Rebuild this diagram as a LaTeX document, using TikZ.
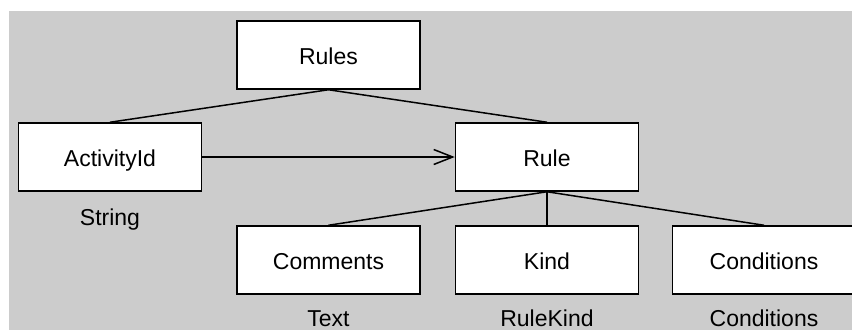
\documentclass[tikz,border=0pt]{standalone}
\usepackage{fontspec}
\setmainfont{Liberation Sans}
\usetikzlibrary{arrows.meta}
\definecolor{canvas}{HTML}{CCCCCC}
\begin{document}
\begin{tikzpicture}[x=1pt,y=-1pt,
    entity/.style ={rectangle, draw, line width=1.5pt, fill=white, inner sep=0pt,
      minimum width=183pt, minimum height=68pt, text height=19pt, text depth=0pt,
      font=\fontsize{23}{27}\selectfont},
    typename/.style ={inner sep=0pt, anchor=base, font=\fontsize{23}{27}\selectfont},
    link/.style ={line width=1.5pt}]
   \useasboundingbox (0,0) rectangle (852,330);
   \clip (0,0) rectangle (852,330);
   \fill[white] (0,0) rectangle (852,330);
   \fill[canvas] (9,11) rectangle (852,330);
   \node[entity] (rules) at (328.5,55)  {Rules};
   \node[entity] (act)   at (110,157)   {ActivityId};
   \node[entity] (rule)  at (547,157)   {Rule};
   \node[entity] (com)   at (328.5,260) {Comments};
   \node[entity] (kind)  at (547,260)   {Kind};
   \node[entity] (cond)  at (764,260)   {Conditions};
   \node[typename] (actT)  at (110,225)   {String};
   \node[typename] (comT)  at (328.5,326) {Text};
   \node[typename] (kindT) at (547,326)   {RuleKind};
   \node[typename] (condT) at (764,326)   {Conditions};
   \draw[link] (rules.south) -- (act.north);
   \draw[link] (rules.south) -- (rule.north);
   \draw[link, -{Straight Barb[length=19pt,width=15pt]}] (act) -- (rule);
   \draw[link] (rule.south) -- (com.north);
   \draw[link] (rule.south) -- (kind.north);
   \draw[link] (rule.south) -- (cond.north);
\end{tikzpicture}
\end{document}
